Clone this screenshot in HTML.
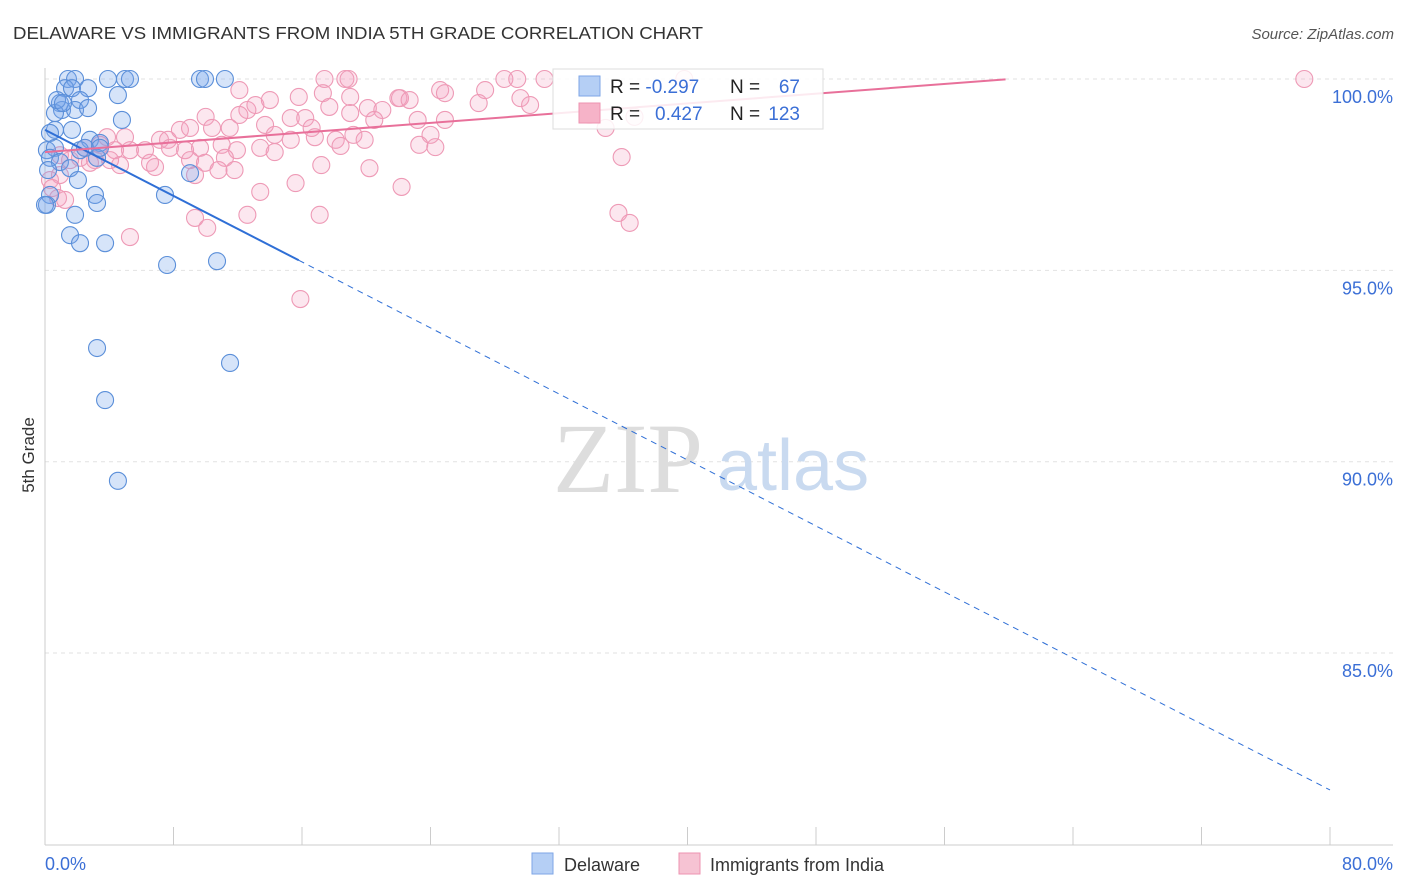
<!DOCTYPE html>
<html><head><meta charset="utf-8">
<style>
body{margin:0;background:#fff;width:1406px;height:892px;overflow:hidden;font-family:"Liberation Sans",sans-serif;}
svg{position:absolute;left:0;top:0;}
</style></head>
<body>
<svg id="chart" width="1406" height="892" viewBox="0 0 1406 892" xmlns="http://www.w3.org/2000/svg">
<text x="13" y="39" font-size="17.5" fill="#333" textLength="690" lengthAdjust="spacingAndGlyphs">DELAWARE VS IMMIGRANTS FROM INDIA 5TH GRADE CORRELATION CHART</text>
<text x="1394" y="39" font-size="15" fill="#555" text-anchor="end" font-style="italic">Source: ZipAtlas.com</text>
<text transform="translate(34,455) rotate(-90)" font-size="17" fill="#333" text-anchor="middle">5th Grade</text>
<g id="grid"></g>
<g id="wm">
<text x="553" y="492" font-size="100" fill="#ddd" font-family="Liberation Serif, serif">ZIP</text>
<text x="717" y="490" font-size="72" fill="#c9daf0">atlas</text>
</g>
<g id="axes"></g>
<g id="pts"></g>
<g id="lines"></g>
<g>
<rect x="553" y="69" width="270" height="60" fill="rgba(255,255,255,0.85)" stroke="#ddd"/>
<rect x="579" y="76" width="21" height="20" fill="#b5cff5" stroke="#7ea6e6"/>
<rect x="579" y="103" width="21" height="20" fill="#f6b3c8" stroke="#ee93b0"/>
<text x="610" y="93" font-size="19" fill="#222">R = <tspan fill="#3b6fd6">-0.297</tspan></text>
<text x="730" y="93" font-size="19" fill="#222">N = </text><text x="800" y="93" font-size="19" fill="#3b6fd6" text-anchor="end">67</text>
<text x="610" y="120" font-size="19" fill="#222">R = </text><text x="655" y="120" font-size="19" fill="#3b6fd6">0.427</text>
<text x="730" y="120" font-size="19" fill="#222">N = </text><text x="800" y="120" font-size="19" fill="#3b6fd6" text-anchor="end">123</text>
</g>
<g>
<rect x="532" y="853" width="21" height="21" fill="#b5cff5" stroke="#7ea6e6"/>
<text x="564" y="871" font-size="18" fill="#333">Delaware</text>
<rect x="679" y="853" width="21" height="21" fill="#f6c3d3" stroke="#ee93b0"/>
<text x="710" y="871" font-size="18" fill="#333">Immigrants from India</text>
</g>
</svg>
<script>
const yTicks=[100,95,90,85];
const yTickLabels=["100.0%","95.0%","90.0%","85.0%"];
const xTickLabels=["0.0%","80.0%"];
const blueX=[1.43,1.87,3.92,4.98,5.29,9.65,9.96,11.2,1.25,1.68,2.68,4.54,0.93,2.18,1.06,1.87,2.68,0.62,4.79,0.62,1.68,0.31,2.8,3.42,0.12,0.62,2.18,3.24,0.31,0.93,1.56,0.19,2.05,7.47,9.03,3.11,3.24,0.31,0.12,1.87,1.56,2.18,3.74,7.6,10.71,3.24,11.52,3.74,4.54,0.75,1.12,2.49,3.42,0];
const blueY=[100,100,100,100,100,100,100,100,99.76,99.76,99.76,99.58,99.37,99.45,99.19,99.19,99.24,99.11,98.93,98.67,98.67,98.59,98.41,98.33,98.14,98.2,98.14,97.94,97.94,97.83,97.67,97.62,97.36,96.97,97.54,96.97,96.76,96.97,96.71,96.45,95.92,95.71,95.71,95.14,95.24,92.97,92.58,91.61,89.5,99.45,99.37,98.2,98.2,96.71];
const pinkX=[17.4,18.7,18.9,28.6,29.4,31.1,39.8,78.4,12.1,15.8,17.3,19.0,22.1,24.6,24.9,27.4,29.6,30.2,12.6,13.1,14.0,17.7,20.1,21.0,22.0,22.7,10.0,10.4,12.1,13.7,15.3,16.2,16.6,19.0,20.5,23.2,24.9,27.0,33.9,34.9,36.7,3.86,4.98,7.16,7.66,8.4,9.03,11.5,14.3,16.8,18.1,19.2,19.9,24.0,23.3,24.3,3.42,4.36,5.29,6.23,7.78,8.72,9.65,11.0,11.95,13.4,14.3,15.3,18.4,0.93,1.56,2.18,3.11,4.05,6.54,6.85,9.03,9.96,11.2,11.8,10.8,9.34,13.4,15.6,17.2,20.2,22.2,35.9,0.93,0.31,0.44,0.81,1.25,9.34,10.1,12.6,17.1,35.7,36.4,5.29,15.9,2.8,2.49,4.67];
const pinkY=[100,100,100,100,100,100,100,100,99.71,99.53,99.63,99.53,99.5,99.71,99.63,99.71,99.5,99.32,99.19,99.32,99.45,99.27,99.24,99.19,99.5,99.45,99.01,98.72,99.06,98.8,98.98,98.98,98.72,99.11,98.93,98.93,98.93,99.37,99.06,98.72,99.01,98.48,98.48,98.41,98.41,98.67,98.72,98.72,98.54,98.48,98.41,98.54,98.41,98.54,98.28,98.22,98.28,98.14,98.14,98.14,98.2,98.14,98.2,98.28,98.14,98.2,98.09,98.41,98.25,98.01,97.88,97.94,97.88,97.88,97.81,97.7,97.88,97.81,97.94,97.62,97.62,97.49,97.05,97.28,97.75,97.67,97.18,97.96,97.49,97.36,97.15,96.89,96.84,96.37,96.11,96.45,96.45,96.5,96.24,95.87,94.25,97.81,98.2,97.75];
const blueTrend=[98.67,-0.2156,15.8];
const pinkTrend=[98.09,0.0318,59.8];
const NS="http://www.w3.org/2000/svg";
function sx(v){return 45+v/80*1285;}
function sy(v){return 79+(100-v)*38.27;}
function mk(tag,attrs,parent){const e=document.createElementNS(NS,tag);for(const k in attrs)e.setAttribute(k,attrs[k]);document.getElementById(parent).appendChild(e);return e;}
yTicks.forEach((t,i)=>{
 const l=mk('line',{x1:45,x2:1393,y1:sy(t),y2:sy(t),stroke:'#e2e2e2','stroke-dasharray':'4,4'},'grid');
 
 
 const tx=mk('text',{x:1393,y:sy(t)+24,'font-size':18,fill:'#3b6fd6','text-anchor':'end'},'axes');
 tx.textContent=yTickLabels[i];
 
 
});
mk('line',{x1:45,x2:45,y1:68,y2:845,stroke:'#ccc'},'axes');
mk('line',{x1:45,x2:1393,y1:845,y2:845,stroke:'#ccc'},'axes');
for(let i=0;i<=10;i++){const t=mk('line',{x1:sx(i*8),x2:sx(i*8),y1:827,y2:845,stroke:'#ccc'},'axes');
 
 }
const xl0=mk('text',{x:45,y:870,'font-size':18,fill:'#3b6fd6'},'axes');xl0.textContent=xTickLabels[0];


const xl1=mk('text',{x:1393,y:870,'font-size':18,fill:'#3b6fd6','text-anchor':'end'},'axes');xl1.textContent=xTickLabels[1];


pinkX.forEach((x,i)=>{const c=mk('circle',{cx:sx(x),cy:sy(pinkY[i]),r:8.5,fill:'rgba(244,160,190,0.25)',stroke:'#ee9ab6','stroke-width':1.1},'pts');
 
 });
blueX.forEach((x,i)=>{const c=mk('circle',{cx:sx(x),cy:sy(blueY[i]),r:8.5,fill:'rgba(120,165,235,0.3)',stroke:'#5b8fd9','stroke-width':1.1},'pts');
 
 });
function ty(tr,x){return tr[0]+tr[1]*x;}
const b1=mk('line',{x1:sx(0),y1:sy(ty(blueTrend,0)),x2:sx(blueTrend[2]),y2:sy(ty(blueTrend,blueTrend[2])),stroke:'#2f6fd6','stroke-width':2},'lines');


const b2=mk('line',{x1:sx(blueTrend[2]),y1:sy(ty(blueTrend,blueTrend[2])),x2:sx(80),y2:sy(ty(blueTrend,80)),stroke:'#2f6fd6','stroke-width':1,'stroke-dasharray':'6,5'},'lines');


const p1=mk('line',{x1:sx(0),y1:sy(ty(pinkTrend,0)),x2:sx(pinkTrend[2]),y2:sy(ty(pinkTrend,pinkTrend[2])),stroke:'#e8709a','stroke-width':2},'lines');


</script>
</body></html>
